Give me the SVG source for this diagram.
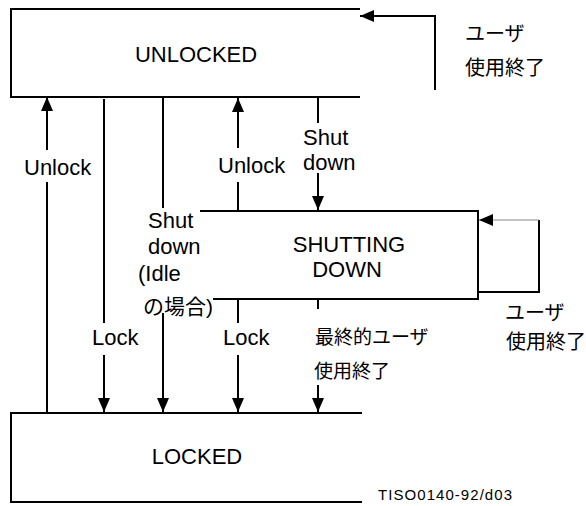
<svg xmlns="http://www.w3.org/2000/svg" width="586" height="506" viewBox="0 0 586 506">
<style>
  .edge { fill: none; stroke: #000; stroke-width: 2; }
  .thin { fill: none; stroke: #888; stroke-width: 1; }
  .lbl { font-family: "Liberation Sans", Arial, "Noto Sans CJK JP", sans-serif; font-size: 22px; fill: #000; }
  .jp { font-family: "Liberation Sans", "Noto Sans CJK JP", sans-serif; font-size: 20px; fill: #000; }
  .small { font-family: "Liberation Sans", Arial, sans-serif; font-size: 15px; fill: #000; }
</style>
<defs>
  <marker id="ah" markerUnits="userSpaceOnUse" markerWidth="15" markerHeight="13" refX="14" refY="6.5" orient="auto">
    <path d="M0,0.5 L14,6.5 L0,12.5 z" fill="#000"/>
  </marker>
</defs>
<rect width="586" height="506" fill="#fff"/>

<g id="unlocked">
  <path class="edge" d="M360,9 H11 V97 H360"/>
  <text class="lbl" x="196" y="62" text-anchor="middle">UNLOCKED</text>
</g>

<g id="shutting-down">
  <path class="edge" d="M200,211 H478 V299 H213"/>
  <text class="lbl" x="349" y="252" text-anchor="middle">SHUTTING</text>
  <text class="lbl" x="347" y="277" text-anchor="middle">DOWN</text>
</g>

<g id="locked">
  <path class="edge" d="M362,413 H11 V502 H362"/>
  <text class="lbl" x="197" y="464" text-anchor="middle">LOCKED</text>
</g>

<g id="connectors">
  <!-- Unlock: LOCKED -> UNLOCKED (left) -->
  <line class="edge" x1="47" y1="413" x2="47" y2="182"/>
  <line class="edge" x1="47" y1="150" x2="47" y2="97" marker-end="url(#ah)"/>
  <text class="lbl" x="24" y="175">Unlock</text>

  <!-- Lock: UNLOCKED -> LOCKED (left) -->
  <line class="edge" x1="104" y1="99" x2="104" y2="323"/>
  <line class="edge" x1="104" y1="355" x2="104" y2="412" marker-end="url(#ah)"/>
  <text class="lbl" x="92" y="345">Lock</text>

  <!-- Shut down (Idle): UNLOCKED -> LOCKED -->
  <line class="edge" x1="163" y1="97" x2="163" y2="208"/>
  <line class="edge" x1="163" y1="313" x2="163" y2="412" marker-end="url(#ah)"/>
  <text class="lbl" x="148" y="228">Shut</text>
  <text class="lbl" x="148" y="254">down</text>
  <text class="lbl" x="138" y="281">(Idle</text>
  <text class="lbl" x="143" y="314" style="font-size:21px">の場合)</text>

  <!-- Unlock: SHUTTING DOWN -> UNLOCKED -->
  <line class="edge" x1="238" y1="211" x2="238" y2="182"/>
  <line class="edge" x1="238" y1="148" x2="238" y2="98" marker-end="url(#ah)"/>
  <text class="lbl" x="218" y="173">Unlock</text>

  <!-- Shut down: UNLOCKED -> SHUTTING DOWN -->
  <line class="edge" x1="318" y1="97" x2="318" y2="123"/>
  <line class="edge" x1="318" y1="173" x2="318" y2="210" marker-end="url(#ah)"/>
  <text class="lbl" x="303" y="145">Shut</text>
  <text class="lbl" x="303" y="170">down</text>

  <!-- Lock: SHUTTING DOWN -> LOCKED -->
  <line class="edge" x1="238" y1="299" x2="238" y2="323"/>
  <line class="edge" x1="238" y1="355" x2="238" y2="412" marker-end="url(#ah)"/>
  <text class="lbl" x="223" y="345">Lock</text>

  <!-- Final user end: SHUTTING DOWN -> LOCKED -->
  <line class="edge" x1="318" y1="299" x2="318" y2="309"/>
  <line class="edge" x1="318" y1="385" x2="318" y2="412" marker-end="url(#ah)"/>
  <text class="jp" x="315" y="344" style="font-size:19px">最終的ユーザ</text>
  <text class="jp" x="314" y="378" style="font-size:19px">使用終了</text>

  <!-- UNLOCKED self loop -->
  <path class="edge" d="M435,90 V16 H360" marker-end="url(#ah)"/>
  <text class="jp" x="465" y="41">ユーザ</text>
  <text class="jp" x="465" y="75">使用終了</text>

  <!-- SHUTTING DOWN self loop -->
  <path class="edge" d="M478,292 H539 V220"/>
  <line class="thin" x1="539" y1="220" x2="479" y2="220" marker-end="url(#ah)"/>
  <text class="jp" x="505" y="320">ユーザ</text>
  <text class="jp" x="506" y="349">使用終了</text>
</g>

<text class="small" x="378" y="500" textLength="134" lengthAdjust="spacing">TISO0140-92/d03</text>
</svg>
